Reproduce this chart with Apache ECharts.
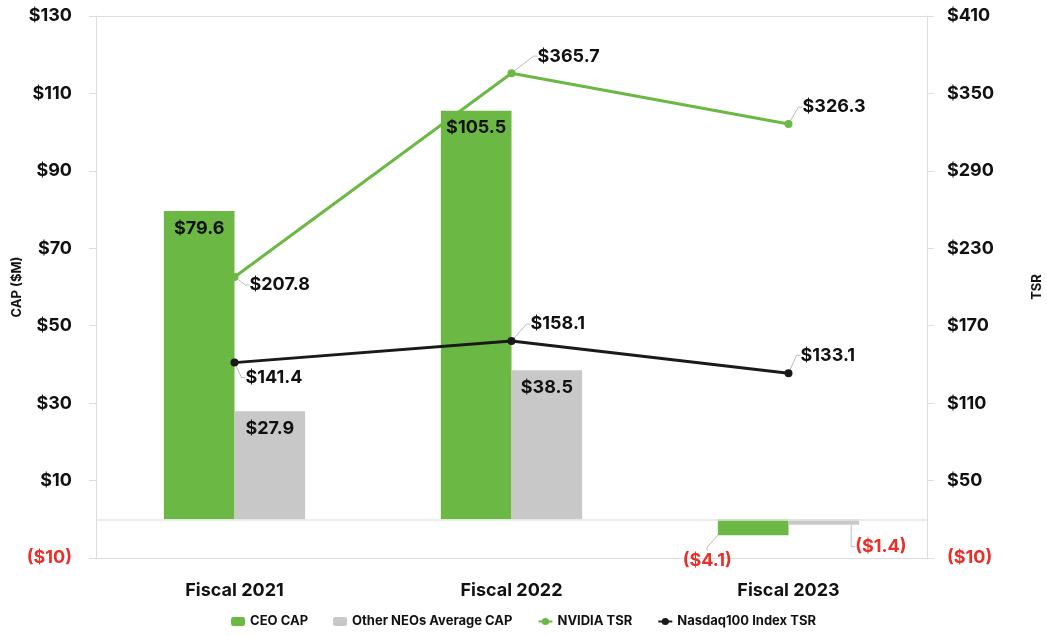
<!DOCTYPE html>
<html>
<head>
<meta charset="utf-8">
<script src="https://cdn.jsdelivr.net/npm/echarts@6/dist/echarts.min.js"></script>
<style>html,body{margin:0;padding:0;background:#fff;overflow:hidden}#c{width:1047px;height:636px}</style>
</head>
<body>
<div id="c"></div>
<script>
var categories = ['Fiscal 2021', 'Fiscal 2022', 'Fiscal 2023'];
var ceoCap = [79.6, 105.5, -4.1];
var neoCap = [27.9, 38.5, -1.4];
var nvidiaTsr = [207.8, 365.7, 326.3];
var nasdaqTsr = [141.4, 158.1, 133.1];
var capTicks = { min: -10, max: 130, interval: 20 };
var tsrTicks = { min: -10, max: 410, interval: 60 };

var FONT = 'Inter';
var GREEN = '#6cb844';
var GRAY = '#c8c8c8';
var RED = '#e8302a';
var LINEC = '#dddddd';

function money(v) {
  var s = Math.abs(v).toFixed(1);
  return v < 0 ? '($' + s + ')' : '$' + s;
}
function tickFmt(v) {
  return v < 0 ? '($' + Math.abs(v) + ')' : '$' + v;
}
function tickColor(v) { return Number(v) < 0 ? RED : '#111'; }

function barData(arr) {
  return arr.map(function (v) {
    if (v < 0) {
      return { value: v, label: { position: 'bottom', color: RED } };
    }
    return { value: v };
  });
}

var ceoOffsets = [[0, 0], [0, 0], [-46, 8]];
var neoOffsets = [[0, 0], [0, 0], [57, 5]];
var nvOffsets = [[6, 8], [17, -17], [5, -17]];
var ndOffsets = [[2, 15], [10, -17], [3, -18]];

function layoutFrom(offs) {
  return function (p) {
    var o = offs[p.dataIndex];
    return { dx: o[0], dy: o[1] };
  };
}

var labelBase = { show: true, fontFamily: FONT, fontWeight: 'bold', fontSize: 18, color: '#111' };
var guide = { show: true, length2: 4, lineStyle: { color: '#bbbbbb', width: 1 } };

var chart = echarts.init(document.getElementById('c'));
chart.setOption({
  animation: false,
  textStyle: { fontFamily: FONT },
  grid: { left: 96, right: 120, top: 16, bottom: 78, containLabel: false, outerBoundsMode: 'none' },
  legend: {
    bottom: 3, left: 'center', itemGap: 25, itemWidth: 14, itemHeight: 9,
    textStyle: { fontFamily: FONT, fontWeight: 'bold', fontSize: 13, color: '#111' },
    data: ['CEO CAP', 'Other NEOs Average CAP', 'NVIDIA TSR', 'Nasdaq100 Index TSR']
  },
  xAxis: [{
    type: 'category', data: categories, position: 'bottom',
    axisLine: { onZero: false, lineStyle: { color: LINEC } },
    axisTick: { show: false },
    axisLabel: { margin: 24, fontFamily: FONT, fontWeight: 'bold', fontSize: 18, color: '#111' }
  }, {
    type: 'category', data: categories, position: 'top',
    axisLine: { onZero: false, lineStyle: { color: LINEC } },
    axisTick: { show: false }, axisLabel: { show: false }
  }],
  yAxis: [{
    type: 'value', min: capTicks.min, max: capTicks.max, interval: capTicks.interval,
    name: 'CAP ($M)', nameLocation: 'middle', nameGap: 72, nameRotate: 90, nameMoveOverlap: false,
    nameTextStyle: { fontFamily: FONT, fontWeight: 'bold', fontSize: 13, color: '#111' },
    axisLine: { show: true, lineStyle: { color: LINEC } },
    axisTick: { show: true, length: 7, lineStyle: { color: LINEC } },
    splitLine: { show: false },
    axisLabel: { margin: 24, formatter: tickFmt, color: tickColor, fontFamily: FONT, fontWeight: 'bold', fontSize: 18 }
  }, {
    type: 'value', min: tsrTicks.min, max: tsrTicks.max, interval: tsrTicks.interval,
    name: 'TSR', nameLocation: 'middle', nameGap: 104, nameRotate: 90, nameMoveOverlap: false,
    nameTextStyle: { fontFamily: FONT, fontWeight: 'bold', fontSize: 13, color: '#111' },
    axisLine: { show: true, lineStyle: { color: LINEC } },
    axisTick: { show: true, length: 7, lineStyle: { color: LINEC } },
    splitLine: { show: false },
    axisLabel: { margin: 20, formatter: tickFmt, color: tickColor, fontFamily: FONT, fontWeight: 'bold', fontSize: 18 }
  }],
  series: [{
    name: 'CEO CAP', type: 'bar', yAxisIndex: 0, barGap: '0%', barCategoryGap: '49%',
    itemStyle: { color: GREEN },
    data: barData(ceoCap),
    label: Object.assign({}, labelBase, { position: 'insideTop', distance: 8, formatter: function (p) { return money(p.value); } }),
    labelLayout: layoutFrom(ceoOffsets),
    labelLine: guide,
    markLine: {
      silent: true, symbol: 'none', label: { show: false },
      lineStyle: { color: '#e6e6e6', type: 'solid', width: 1.5 },
      data: [{ yAxis: 0 }]
    },
    z: 2
  }, {
    name: 'Other NEOs Average CAP', type: 'bar', yAxisIndex: 0, barGap: '0%', barCategoryGap: '49%',
    itemStyle: { color: GRAY },
    data: barData(neoCap),
    label: Object.assign({}, labelBase, { position: 'insideTop', distance: 8, formatter: function (p) { return money(p.value); } }),
    labelLayout: layoutFrom(neoOffsets),
    labelLine: guide,
    z: 2
  }, {
    name: 'NVIDIA TSR', type: 'line', yAxisIndex: 1,
    data: nvidiaTsr, symbol: 'circle', symbolSize: 8,
    lineStyle: { color: GREEN, width: 3 }, itemStyle: { color: GREEN },
    label: Object.assign({}, labelBase, { position: 'right', distance: 5, formatter: function (p) { return money(p.value); } }),
    labelLayout: layoutFrom(nvOffsets),
    labelLine: guide,
    z: 3
  }, {
    name: 'Nasdaq100 Index TSR', type: 'line', yAxisIndex: 1,
    data: nasdaqTsr, symbol: 'circle', symbolSize: 8,
    lineStyle: { color: '#1a1a1a', width: 3 }, itemStyle: { color: '#1a1a1a' },
    label: Object.assign({}, labelBase, { position: 'right', distance: 5, formatter: function (p) { return money(p.value); } }),
    labelLayout: layoutFrom(ndOffsets),
    labelLine: guide,
    z: 3
  }]
});
</script>
</body>
</html>
